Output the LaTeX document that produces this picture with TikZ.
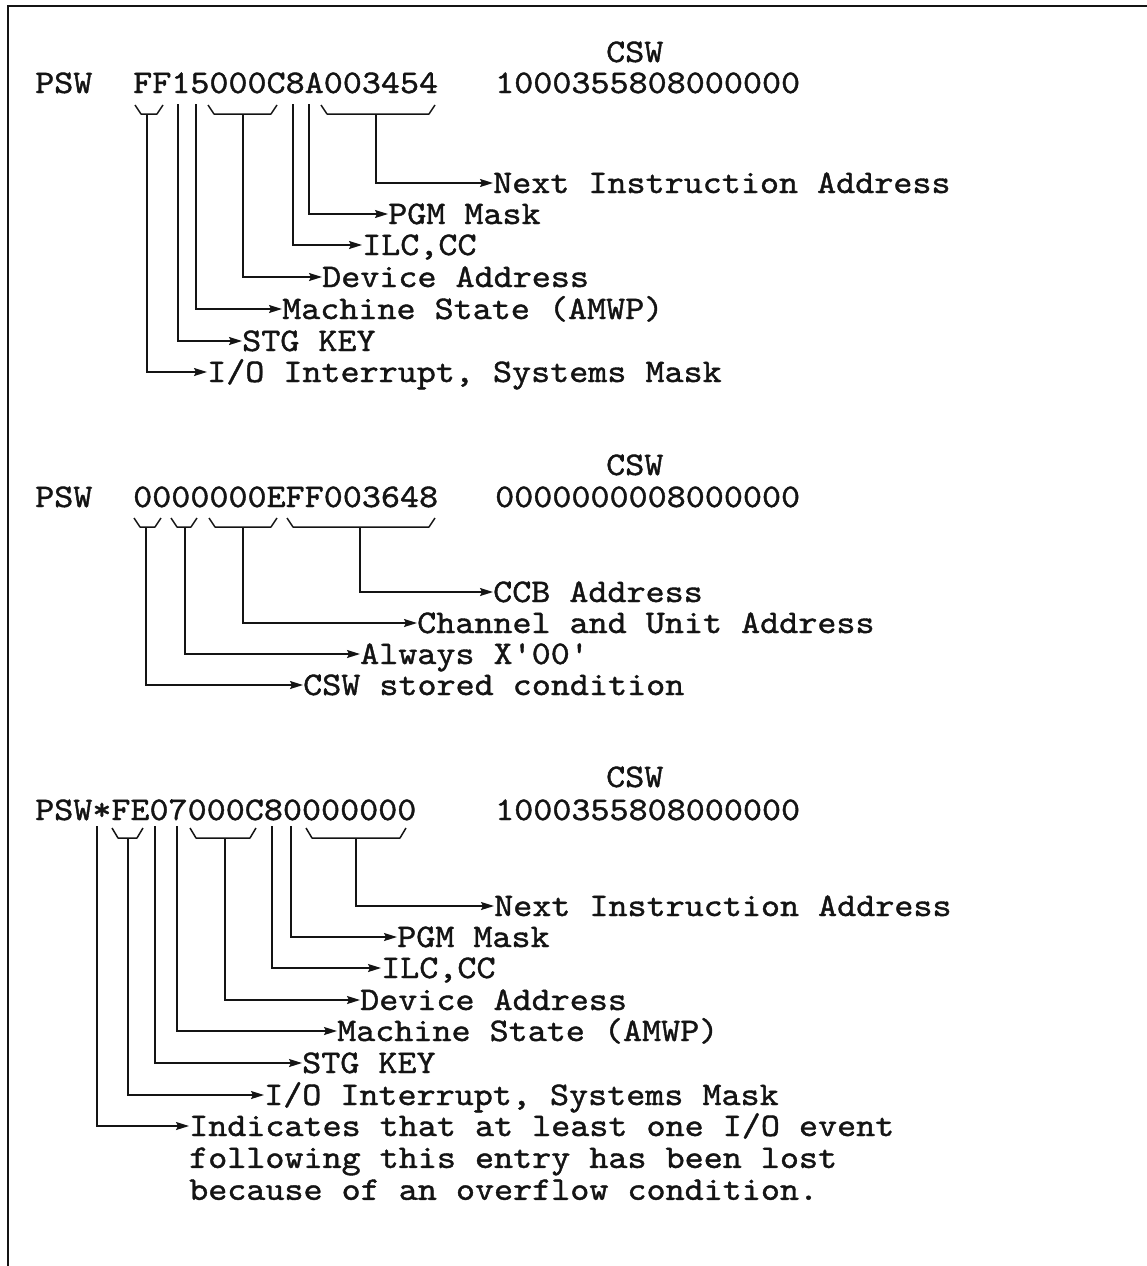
\documentclass[tikz,border=0pt]{standalone}
\usepackage{fontspec}
\newfontfamily\typefont{lmmono10-regular.otf}[FakeStretch=1.1,FakeBold=1.2]
\usetikzlibrary{positioning,arrows.meta}
\definecolor{ink}{HTML}{141414}
\tikzset{
  txt/.style={anchor=west,inner sep=0pt,text=ink,text height=20pt,text depth=0pt,
              font=\typefont\fontsize{33}{31.5}\selectfont},
  brk/.style={draw=ink,line width=1.5pt,line join=round},
  fl/.style={-{Stealth[length=13pt,width=8pt,inset=2pt]},draw=ink,line width=1.5pt},
  frame/.style={draw=ink,line width=2.8pt}
}

\begin{document}
\begin{tikzpicture}[x=1pt,y=-1pt]
\useasboundingbox (0,0) rectangle (1147,1266);
\draw[frame] (8,1266) -- (8,6) -- (1147,6);

% first entry
\node[txt] (csw1) at (606,52) {CSW};
\node[txt] (psw1) at (35,83) {PSW};
\node[txt] (dig1) at (133,83) {FF15000C8A003454};
\node[txt] (val1) at (495,83) {1000355808000000};
\draw[brk] (135,105) -- (141,114) -- (157,114) -- (163,105);
\draw[brk] (208,105) -- (214,114) -- (271,114) -- (277,105);
\draw[brk] (321,105) -- (327,114) -- (429,114) -- (435,105);
\coordinate (b1i) at (147,114);
\coordinate (b1k) at (178,104);
\coordinate (b1m) at (196,104);
\coordinate (b1d) at (243,114);
\coordinate (b1c) at (293,104);
\coordinate (b1p) at (309,104);
\coordinate (b1n) at (376,114);
\node[txt] (nia1) at (493,183) {Next Instruction Address};
\node[txt] (pgm1) at (388,214) {PGM Mask};
\node[txt] (ilc1) at (362,245) {ILC,CC};
\node[txt] (dev1) at (322,277) {Device Address};
\node[txt] (mst1) at (282,309) {Machine State (AMWP)};
\node[txt] (stg1) at (242,341) {STG KEY};
\node[txt] (io1) at (207,372) {I/O Interrupt, Systems Mask};
\draw[fl] (b1n) |- (nia1);
\draw[fl] (b1p) |- (pgm1);
\draw[fl] (b1c) |- (ilc1);
\draw[fl] (b1d) |- (dev1);
\draw[fl] (b1m) |- (mst1);
\draw[fl] (b1k) |- (stg1);
\draw[fl] (b1i) |- (io1);

% second entry
\node[txt] (csw2) at (606,465) {CSW};
\node[txt] (psw2) at (35,497) {PSW};
\node[txt] (dig2) at (133,497) {0000000EFF003648};
\node[txt] (val2) at (495,497) {0000000008000000};
\draw[brk] (134,518) -- (140,527) -- (155,527) -- (161,518);
\draw[brk] (171,518) -- (177,527) -- (191,527) -- (197,518);
\draw[brk] (209,518) -- (215,527) -- (271,527) -- (277,518);
\draw[brk] (287,518) -- (293,527) -- (429,527) -- (435,518);
\coordinate (b2s) at (146,527);
\coordinate (b2a) at (185,527);
\coordinate (b2u) at (243,527);
\coordinate (b2c) at (360,527);
\node[txt] (ccb2) at (493,592) {CCB Address};
\node[txt] (chu2) at (417,623) {Channel and Unit Address};
\node[txt] (alw2) at (360,654) {Always X'00'};
\node[txt] (cst2) at (303,685) {CSW stored condition};
\draw[fl] (b2c) |- (ccb2);
\draw[fl] (b2u) |- (chu2);
\draw[fl] (b2a) |- (alw2);
\draw[fl] (b2s) |- (cst2);

% third entry
\node[txt] (csw3) at (606,777) {CSW};
\node[txt] (psw3) at (35,810) {PSW*FE07000C80000000};
\node[txt] (val3) at (495,810) {1000355808000000};
\draw[brk] (112,828) -- (118,838) -- (137,838) -- (143,828);
\draw[brk] (190,828) -- (196,838) -- (250,838) -- (256,828);
\draw[brk] (306,828) -- (312,838) -- (400,838) -- (406,828);
\coordinate (b3o) at (97,826);
\coordinate (b3i) at (128,838);
\coordinate (b3k) at (155,826);
\coordinate (b3m) at (177,826);
\coordinate (b3d) at (225,838);
\coordinate (b3c) at (272,826);
\coordinate (b3p) at (291,826);
\coordinate (b3n) at (356,838);
\node[txt] (nia3) at (494,906) {Next Instruction Address};
\node[txt] (pgm3) at (397,937) {PGM Mask};
\node[txt] (ilc3) at (381,968) {ILC,CC};
\node[txt] (dev3) at (360,1000) {Device Address};
\node[txt] (mst3) at (337,1031) {Machine State (AMWP)};
\node[txt] (stg3) at (302,1063) {STG KEY};
\node[txt] (io3) at (264,1095) {I/O Interrupt, Systems Mask};
\node[txt] (ind3) at (189,1126) {Indicates that at least one I/O event};
\node[txt,below=11.5pt of ind3.south west,anchor=north west] (fol3) {following this entry has been lost};
\node[txt,below=11.5pt of fol3.south west,anchor=north west] (bec3) {because of an overflow condition.};
\draw[fl] (b3n) |- (nia3);
\draw[fl] (b3p) |- (pgm3);
\draw[fl] (b3c) |- (ilc3);
\draw[fl] (b3d) |- (dev3);
\draw[fl] (b3m) |- (mst3);
\draw[fl] (b3k) |- (stg3);
\draw[fl] (b3i) |- (io3);
\draw[fl] (b3o) |- (ind3);
\end{tikzpicture}
\end{document}
